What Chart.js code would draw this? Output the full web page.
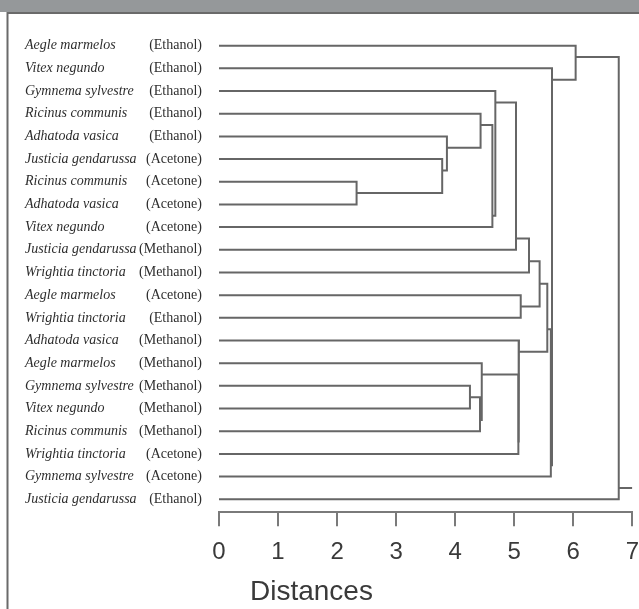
<!DOCTYPE html>
<html><head><meta charset="utf-8">
<script src="https://cdn.jsdelivr.net/npm/chart.js@4/dist/chart.umd.min.js"></script>
<style>html,body{margin:0;padding:0;background:#fff;overflow:hidden}canvas{display:block}</style>
</head><body>
<canvas id="c" width="639" height="609"></canvas>
<script>
// ---- data ----
const species = [
  "Aegle marmelos","Vitex negundo","Gymnema sylvestre","Ricinus communis","Adhatoda vasica",
  "Justicia gendarussa","Ricinus communis","Adhatoda vasica","Vitex negundo","Justicia gendarussa",
  "Wrightia tinctoria","Aegle marmelos","Wrightia tinctoria","Adhatoda vasica","Aegle marmelos",
  "Gymnema sylvestre","Vitex negundo","Ricinus communis","Wrightia tinctoria","Gymnema sylvestre",
  "Justicia gendarussa"
];
const solvents = [
  "Ethanol","Ethanol","Ethanol","Ethanol","Ethanol",
  "Acetone","Acetone","Acetone","Acetone","Methanol",
  "Methanol","Acetone","Ethanol","Methanol","Methanol",
  "Methanol","Methanol","Methanol","Acetone","Acetone",
  "Ethanol"
];
// merges: ids < 21 are leaves, id 21+k is the cluster made by merge k
const mergeLeft   = [6, 5, 4, 3, 24, 2, 26, 27, 11, 28, 15, 31, 14, 33, 13, 30, 36, 1, 0, 39];
const mergeRight  = [7, 21, 22, 23, 8, 25, 9, 10, 12, 29, 16, 17, 32, 18, 34, 35, 19, 37, 38, 20];
const mergeHeight = [2.33, 3.78, 3.86, 4.43, 4.63, 4.68, 5.03, 5.25, 5.11, 5.43, 4.25, 4.42, 4.45, 5.07, 5.08, 5.56, 5.62, 5.64, 6.04, 6.77];
const distanceTicks = [0, 1, 2, 3, 4, 5, 6, 7];
const axisTitle = "Distances";

// ---- build dendrogram segments ----
const n = species.length;
const nodes = [];
for (let i = 0; i < n; i++) nodes.push({min: i, max: i, y: i, h: 0});
const datasets = [];
const LINE = '#666666';
for (let k = 0; k < mergeLeft.length; k++) {
  const L = nodes[mergeLeft[k]], R = nodes[mergeRight[k]], h = mergeHeight[k];
  nodes.push({min: Math.min(L.min, R.min), max: Math.max(L.max, R.max), y: (L.max + R.min) / 2, h: h});
  datasets.push({
    data: [{x: L.h, y: L.y}, {x: h, y: L.y}, {x: h, y: R.y}, {x: R.h, y: R.y}],
    showLine: true, borderColor: LINE, borderWidth: 2, pointRadius: 0, fill: false, tension: 0
  });
}
const root = nodes[nodes.length - 1];
datasets.push({
  data: [{x: root.h, y: root.y}, {x: distanceTicks[distanceTicks.length - 1], y: root.y}],
  showLine: true, borderColor: LINE, borderWidth: 2, pointRadius: 0, fill: false
});

const frame = {
  id: 'frame',
  beforeDraw(chart) {
    const ctx = chart.ctx;
    ctx.save();
    ctx.fillStyle = '#ffffff';
    ctx.fillRect(0, 0, chart.width, chart.height);
    ctx.fillStyle = '#95989a';
    ctx.fillRect(0, 0, chart.width, 12);
    ctx.strokeStyle = '#6a6a6a';
    ctx.lineWidth = 2;
    ctx.beginPath();
    ctx.moveTo(7, 13); ctx.lineTo(chart.width, 13);
    ctx.moveTo(7.5, 12); ctx.lineTo(7.5, chart.height);
    ctx.stroke();
    ctx.restore();
  },
  afterDraw(chart) {
    const ctx = chart.ctx, ys = chart.scales.y, xs = chart.scales.x;
    ctx.save();
    ctx.fillStyle = '#2e2e2e';
    ctx.textBaseline = 'middle';
    for (let i = 0; i < n; i++) {
      const y = ys.getPixelForValue(i);
      ctx.font = 'italic 14px "Liberation Serif", "Times New Roman", serif';
      ctx.textAlign = 'left';
      ctx.fillText(species[i], 25, y);
      ctx.font = '14px "Liberation Serif", "Times New Roman", serif';
      ctx.textAlign = 'right';
      ctx.fillText('(' + solvents[i] + ')', 202, y);
    }
    ctx.fillStyle = '#3a3a3a';
    ctx.font = '28px "Liberation Sans", Arial, sans-serif';
    ctx.textAlign = 'left';
    ctx.textBaseline = 'alphabetic';
    ctx.fillText(axisTitle, xs.left + 31, 600);
    ctx.restore();
  }
};

new Chart(document.getElementById('c'), {
  type: 'scatter',
  data: {datasets},
  plugins: [frame],
  options: {
    responsive: false, animation: false, devicePixelRatio: 1,
    layout: {padding: {left: 219, top: 23, bottom: 30, right: 0}},
    plugins: {legend: {display: false}, tooltip: {enabled: false}, title: {display: false}},
    scales: {
      x: {
        type: 'linear', position: 'bottom',
        min: distanceTicks[0], max: distanceTicks[distanceTicks.length - 1],
        afterBuildTicks: s => { s.ticks = distanceTicks.map(v => ({value: v})); },
        ticks: {font: {family: '"Liberation Sans", Arial, sans-serif', size: 24, lineHeight: 2.2}, color: '#3a3a3a', padding: 0, maxRotation: 0},
        grid: {drawOnChartArea: false, drawTicks: true, tickLength: 14, color: '#7a7a7a', lineWidth: 2},
        border: {display: true, color: '#7a7a7a', width: 2}
      },
      y: {type: 'linear', display: false, min: -1, max: 20.57, reverse: true}
    }
  }
});
</script>
</body></html>
